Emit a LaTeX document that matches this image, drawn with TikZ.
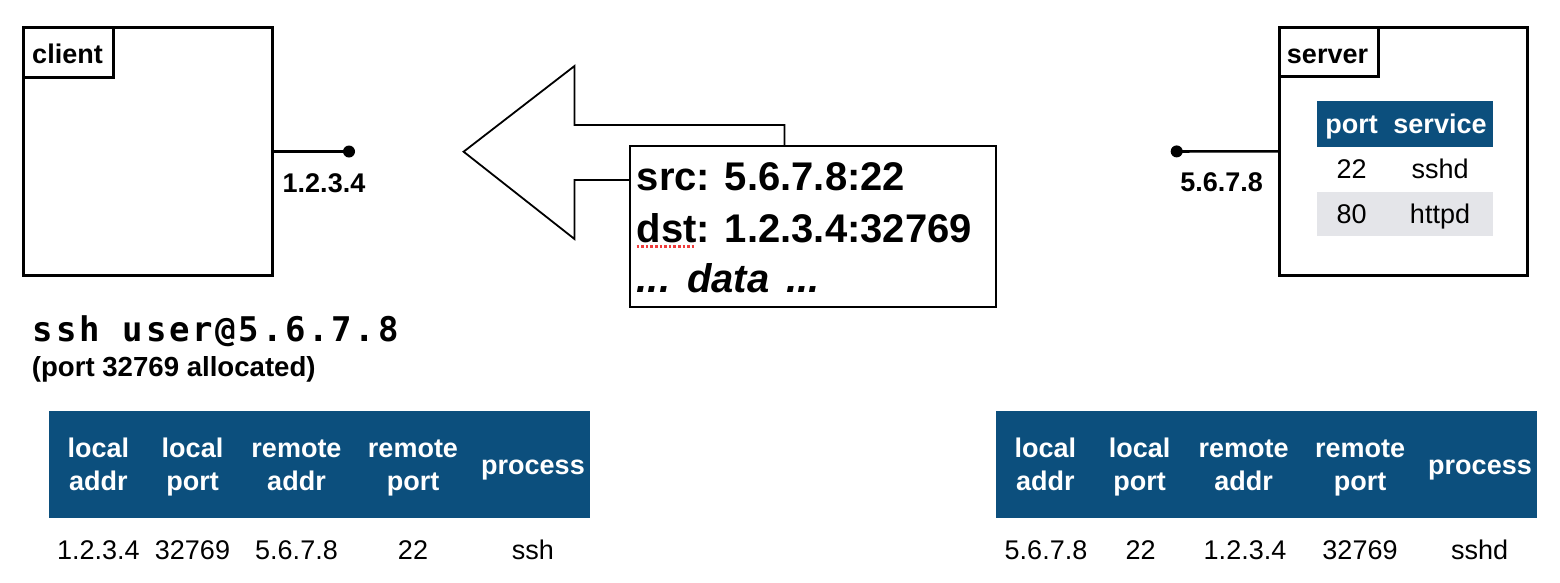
\documentclass[tikz,border=0pt]{standalone}
\usepackage{fontspec}
\setmainfont{Liberation Sans}
\newfontfamily\monob{DejaVu Sans Mono}[LetterSpace=8]
\definecolor{tblue}{RGB}{12,79,125}
\definecolor{tgray}{RGB}{228,229,233}
\definecolor{spell}{RGB}{240,60,60}
\newcommand\fsz[2]{\fontsize{#1}{#2}\selectfont}
\begin{document}
\begin{tikzpicture}[x=1pt,y=-1pt,
  hostbox/.style={draw, line width=3pt, outer sep=0pt, inner sep=0pt, anchor=north west},
  tagbox/.style={draw, line width=3pt, outer sep=0pt, inner sep=0pt, anchor=north west, fill=white},
  lbltext/.style={inner sep=0pt, anchor=base, font=\bfseries\fsz{27}{32}},
  wire/.style={line width=2.7pt},
  dotnode/.style={circle, fill=black, inner sep=0pt, minimum size=12pt},
  hdrfill/.style={fill=tblue, inner sep=0pt, outer sep=0pt, anchor=north west},
  rowfill/.style={fill=tgray, inner sep=0pt, outer sep=0pt, anchor=north west},
  hdrtext/.style={inner sep=0pt, anchor=base, text=white, font=\bfseries\fsz{27}{32}},
  celltext/.style={inner sep=0pt, anchor=base, font=\fsz{27}{32}},
  msgtext/.style={inner sep=0pt, anchor=base west, font=\bfseries\fsz{40}{48}},
]
\useasboundingbox (0,0) rectangle (1560,582);

% client
\node[hostbox, minimum width=249pt, minimum height=248pt] (client) at (23.5,27.5) {};
\node[tagbox, minimum width=89.5pt, minimum height=49.5pt] (clienttag) at (23.5,27.5) {};
\node[lbltext] (clientlbl) at (67.5,63.3) {client};
\node[dotnode] (cdot) at (349,151.5) {};
\draw[wire] (client.east) -- (cdot.center);
\node[lbltext] (caddr) at (324,192.7) {1.2.3.4};

% server
\node[hostbox, minimum width=248.6pt, minimum height=247.7pt] (server) at (1279.2,27.5) {};
\node[tagbox, minimum width=99.3pt, minimum height=48.7pt] (servertag) at (1279.2,27.5) {};
\node[lbltext] (serverlbl) at (1327.5,63.3) {server};
\node[dotnode] (sdot) at (1176.7,151.4) {};
\draw[wire] (sdot.center) -- (server.west);
\node[lbltext] (saddr) at (1221.7,191.7) {5.6.7.8};

% server service table
\node[hdrfill, minimum width=176.6pt, minimum height=45.7pt] (svchead) at (1316.7,101) {};
\node[rowfill, minimum width=176.6pt, minimum height=44pt] (svcrow) at (1316.7,191.7) {};
\node[hdrtext] (svcport) at (1351.7,133.3) {port};
\node[hdrtext] (svcserv) at (1440,133.3) {service};
\node[celltext] (svc22) at (1351.7,178.3) {22};
\node[celltext] (svcsshd) at (1440,178.3) {sshd};
\node[celltext] (svc80) at (1351.7,223.3) {80};
\node[celltext] (svchttpd) at (1440,223.3) {httpd};

% packet arrow
\draw[line width=1.8pt, fill=white, line join=miter]
  (463.6,151.7) -- (574.5,66) -- (574.5,125) -- (784.5,125) -- (784.5,180)
  -- (574.5,180) -- (574.5,239) -- cycle;
\node[draw, line width=2pt, fill=white, outer sep=0pt, inner sep=0pt, anchor=north west,
      minimum width=366.7pt, minimum height=161pt] (msg) at (629.7,146) {};
\node[msgtext] (src) at (636.6,190) {src: 5.6.7.8:22};
\node[msgtext] (dst) at (636.6,242) {dst: 1.2.3.4:32769};
\node[msgtext, font=\bfseries\itshape\fsz{40}{48}] (data) at (636.6,292) {...\hspace{17pt}data\hspace{17pt}...};
\draw[spell, line width=2.6pt, dash pattern=on 2.6pt off 2pt]
  ([yshift=-4.5pt]dst.base west) -- ++(59.4,0);

% command
\node[inner sep=0pt, anchor=base west, font=\monob\bfseries\fsz{34}{40}] (cmd) at (32.7,341.7) {ssh user@5.6.7.8};
\node[inner sep=0pt, anchor=base west, font=\bfseries\fsz{27.6}{32}] (alloc) at (31.7,376.3) {(port 32769 allocated)};

% connection tables
\foreach \t/\ox in {l/49,r/996} {
  \node[hdrfill, minimum width=541pt, minimum height=107.3pt] (\t-head) at (\ox,411) {};
  \foreach \i/\dx/\a/\b in {1/49.3/local/addr, 2/143.5/local/port, 3/247.5/remote/addr, 4/364/remote/port} {
    \node[hdrtext] (\t-h\i-a) at (\ox+\dx,457.7) {\a};
    \node[hdrtext] (\t-h\i-b) at (\ox+\dx,490) {\b};
  }
  \node[hdrtext] (\t-h5) at (\ox+484,474) {process};
}
\node[celltext] (l-d1) at (98.3,559.3) {1.2.3.4};
\node[celltext] (l-d2) at (192.5,559.3) {32769};
\node[celltext] (l-d3) at (296.5,559.3) {5.6.7.8};
\node[celltext] (l-d4) at (413,559.3) {22};
\node[celltext] (l-d5) at (533,559.3) {ssh};
\node[celltext] (r-d1) at (1046,559.3) {5.6.7.8};
\node[celltext] (r-d2) at (1140.5,559.3) {22};
\node[celltext] (r-d3) at (1245,559.3) {1.2.3.4};
\node[celltext] (r-d4) at (1360,559.3) {32769};
\node[celltext] (r-d5) at (1479.5,559.3) {sshd};
\end{tikzpicture}
\end{document}
